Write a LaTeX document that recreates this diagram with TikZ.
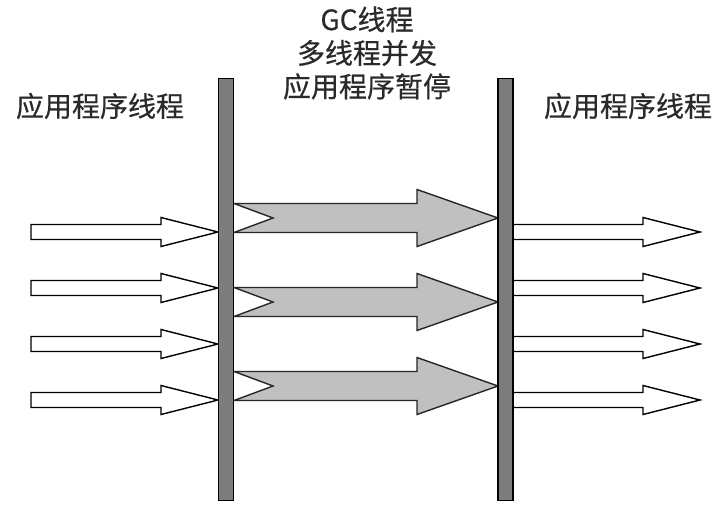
\documentclass[tikz,border=0pt]{standalone}
\usepackage{fontspec}
\newfontfamily\cjk[FakeBold=0.5]{Noto Sans CJK SC}
\definecolor{barGray}{HTML}{7C7C7C}
\definecolor{arrGray}{HTML}{C0C0C0}
\definecolor{txtGray}{HTML}{2A2A2A}
\newcommand\myThinArrow[3]{% x1, tip x, center y
  \draw[thinarrow] (#1,#3-7.5) -- (#2-57,#3-7.5) -- (#2-57,#3-14.5) -- (#2,#3)
    -- (#2-57,#3+14.5) -- (#2-57,#3+7.5) -- (#1,#3+7.5) -- cycle;}
\newcommand\myGcArrow[1]{% center y
  \draw[gcarrow] (234,#1-14.5) -- (417,#1-14.5) -- (417,#1-28.5) -- (498,#1)
    -- (417,#1+28.5) -- (417,#1+14.5) -- (234,#1+14.5) -- (273,#1) -- cycle;}
\begin{document}
\begin{tikzpicture}[x=1pt,y=-1pt,
  thinarrow/.style={draw=black, fill=white, line width=1.4pt, line join=miter},
  gcarrow/.style={draw=black!85, fill=arrGray, line width=1.4pt, line join=miter},
  bar/.style={draw=black, fill=barGray, line width=1.4pt, rectangle, inner sep=0pt,
    minimum width=15pt, minimum height=422pt},
  lbl/.style={font=\cjk\fontsize{28}{33.5}\selectfont, text=txtGray, inner sep=0pt, align=center}]
\useasboundingbox (0,0) rectangle (719,514);
% thin application-thread arrows
\foreach \yy in {232,288,344,400}{
  \myThinArrow{31}{218}{\yy}
  \myThinArrow{505}{700}{\yy}
}
% GC arrows
\foreach \yy in {218,302,386}{
  \myGcArrow{\yy}
}
% bars
\node[bar] (lbar) at (226,289.5) {};
\node[bar] (rbar) at (505.5,289.5) {};
% labels
\node[lbl] (ltext) at (100,106) {应用程序线程};
\node[lbl] (rtext) at (628,106) {应用程序线程};
\node[lbl] (gctext) at (367,53) {GC线程\\多线程并发\\应用程序暂停};
\end{tikzpicture}
\end{document}
